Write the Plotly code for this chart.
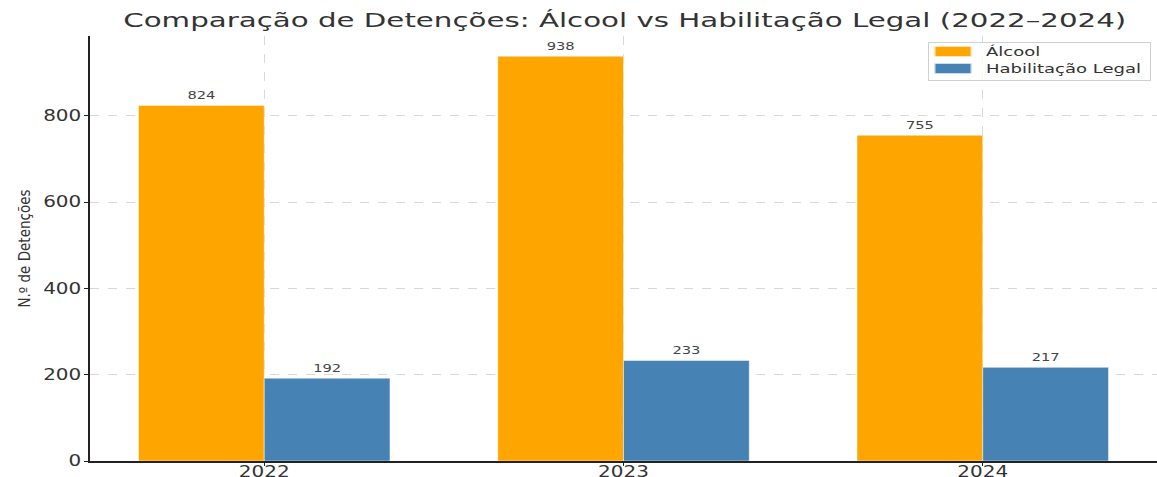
import plotly.graph_objects as go

years = ["2022", "2023", "2024"]
alcool = [824, 938, 755]
habilitacao = [192, 233, 217]
series_names = ["Álcool", "Habilitação Legal"]
title_text = "Comparação de Detenções: Álcool vs Habilitação Legal (2022–2024)"
y_title = "N.º de Detenções"
y_ticks = [0, 200, 400, 600, 800]

fig = go.Figure()
fig.add_trace(go.Bar(
    x=years, y=alcool, name=series_names[0],
    marker=dict(color="#FFA500", line=dict(color="rgba(255,255,255,0.6)", width=0.8)),
    text=[str(v) for v in alcool], textposition="outside",
    textfont=dict(family="DejaVu Sans", size=11, color="#444"),
    cliponaxis=False,
))
fig.add_trace(go.Bar(
    x=years, y=habilitacao, name=series_names[1],
    marker=dict(color="#4682B4", line=dict(color="rgba(255,255,255,0.6)", width=0.8)),
    text=[str(v) for v in habilitacao], textposition="outside",
    textfont=dict(family="DejaVu Sans", size=11, color="#444"),
    cliponaxis=False,
))

fig.update_layout(
    width=1157, height=477,
    margin=dict(l=90, r=0, t=36, b=16, autoexpand=False),
    paper_bgcolor="white", plot_bgcolor="white",
    barmode="group", bargap=0.3, bargroupgap=0,
    font=dict(family="DejaVu Sans", color="#333"),
    title=dict(text=title_text, x=0.54, xanchor="center", y=0.958, yanchor="middle",
               font=dict(family="DejaVu Sans", size=20, color="#333")),
    showlegend=True,
    legend=dict(x=0.9925, xanchor="right", y=0.985, yanchor="top",
                bgcolor="rgba(255,255,255,0.85)", bordercolor="#d0d0d0", borderwidth=1,
                font=dict(family="DejaVu Sans", size=12.5, color="#333"),
                tracegroupgap=0, itemwidth=30),
    xaxis=dict(
        type="category", range=[-0.485, 2.485],
        showgrid=True, gridcolor="#d8d8d8", griddash="dash", gridwidth=1,
        showline=True, linecolor="#222", linewidth=1.5,
        ticks="outside", ticklen=3, tickcolor="#222",
        tickfont=dict(family="DejaVu Sans", size=15, color="#333"),
        ticklabelstandoff=-7,
        automargin=False,
    ),
    yaxis=dict(
        range=[0, 985], tickvals=y_ticks,
        showgrid=True, gridcolor="#d8d8d8", griddash="dash", gridwidth=1,
        zeroline=False,
        showline=True, linecolor="#222", linewidth=1.5,
        ticks="outside", ticklen=4, tickcolor="#222",
        tickfont=dict(family="DejaVu Sans", size=15, color="#333"),
        title=dict(text=y_title, standoff=18,
                   font=dict(family="DejaVu Sans Condensed, Liberation Sans Narrow, DejaVu Sans", size=15, color="#333")),
        automargin=False,
    ),
)

post = r"""
(function(){
  document.body.style.margin = '0';
  var gd = document.getElementById('{plot_id}');
  function stretchEl(t, S){
    var L = t.getComputedTextLength();
    if (!L) return 0;
    t.setAttribute('textLength', (L*S).toFixed(2));
    t.setAttribute('lengthAdjust', 'spacingAndGlyphs');
    t.setAttribute('data-st', '1');
    return L*S;
  }
  function stretch(sel, S){
    gd.querySelectorAll(sel).forEach(function(t){
      if (t.getAttribute('data-st')) return;
      stretchEl(t, S);
    });
  }
  function run(){
    gd.querySelectorAll('.gtitle').forEach(function(t){
      if (t.getAttribute('data-st')) return;
      var L = t.getComputedTextLength();
      if (L) stretchEl(t, 1003 / L);
    });
    stretch('.xtick text', 1.33);
    stretch('.ytick text', 1.33);
    stretch('text.bartext', 1.33);
    var lg = gd.querySelector('.legend');
    if (lg && !lg.getAttribute('data-st')) {
      var items = lg.querySelectorAll('.traces');
      var Lmax = 0;
      items.forEach(function(g){
        var t = g.querySelector('.legendtext');
        if (t) Lmax = Math.max(Lmax, t.getComputedTextLength());
      });
      if (!Lmax) return;
      var S = 155 / Lmax;
      var maxW = 0;
      items.forEach(function(g, i){
        var t = g.querySelector('.legendtext');
        if (t) { maxW = Math.max(maxW, stretchEl(t, S)); t.setAttribute('x', 57); }
        g.setAttribute('transform', 'translate(1,' + (9.5 + i*17) + ')');
        g.querySelectorAll('.legendpoints path').forEach(function(p){
          p.setAttribute('transform', 'translate(24,0) scale(3.1,0.85)');
        });
      });
      var W = 57 + maxW + 10, H = 38;
      var bg = lg.querySelector('rect.bg');
      if (bg) { bg.setAttribute('width', W); bg.setAttribute('height', H); }
      document.querySelectorAll('clipPath[id^="legend"] rect').forEach(function(r){
        r.setAttribute('width', W + 4); r.setAttribute('height', H + 4);
      });
      lg.setAttribute('transform', 'translate(' + (1150 - W) + ',42)');
      lg.setAttribute('data-st', '1');
    }
  }
  run();
  setTimeout(run, 0);
  setTimeout(run, 100);
})();
"""

fig.write_html("out.html", post_script=post, config={"displayModeBar": False})
